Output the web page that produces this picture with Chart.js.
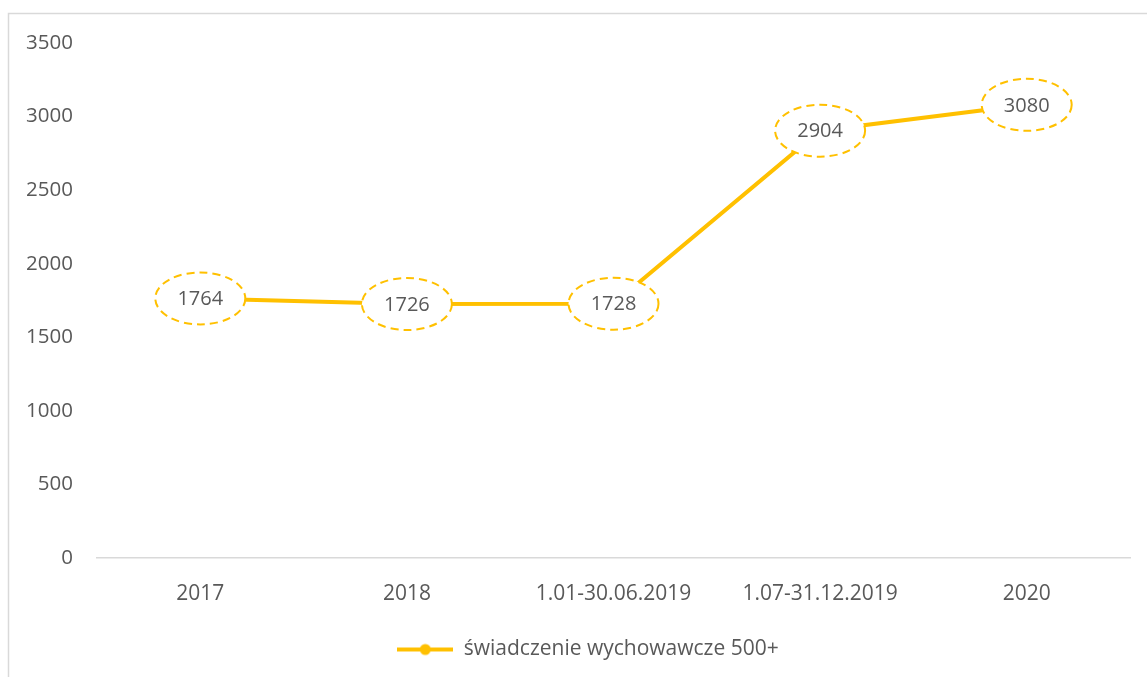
<!DOCTYPE html>
<html>
<head>
<meta charset="utf-8">
<title>świadczenie wychowawcze 500+</title>
<script src="https://cdn.jsdelivr.net/npm/chart.js@4/dist/chart.umd.min.js"></script>
<style>
  body { margin: 0; background: #fff; }
  #wrap { width: 1147px; height: 677px; }
</style>
</head>
<body>
<div id="wrap"><canvas id="chart" width="1147" height="677"></canvas></div>
<script>
// data
const categories = ['2017', '2018', '1.01-30.06.2019', '1.07-31.12.2019', '2020'];
const values = [1764, 1726, 1728, 2904, 3080];
const seriesName = 'świadczenie wychowawcze 500+';
const yTicks = [0, 500, 1000, 1500, 2000, 2500, 3000, 3500];

const yellow = '#FFC000';
const textGrey = '#595959';
const fontFamily = '"Open Sans", "Noto Sans", sans-serif';

// legend marker: line with a dot in the middle
function legendMarker() {
    const c = document.createElement('canvas');
    c.width = 56;
    c.height = 14;
    const g = c.getContext('2d');
    g.strokeStyle = yellow;
    g.lineWidth = 4;
    g.beginPath();
    g.moveTo(0, 7);
    g.lineTo(56, 7);
    g.stroke();
    g.fillStyle = yellow;
    g.beginPath();
    g.arc(28, 7, 5.5, 0, Math.PI * 2);
    g.fill();
    return c;
}

// outer frame of the chart (left and top edges are visible)
const framePlugin = {
    id: 'frame',
    afterLayout(chart) {
        // nudge the legend a bit to the right, like the original
        chart.legend.left += 18;
        chart.legend.right += 18;
    },
    beforeDraw(chart) {
        const ctx = chart.ctx;
        ctx.save();
        ctx.strokeStyle = '#d9d9d9';
        ctx.lineWidth = 1.5;
        ctx.strokeRect(8.5, 13.5, 1160, 700);
        ctx.restore();
    }
};

// dashed ellipse labels on each point
const ellipseLabels = {
    id: 'ellipseLabels',
    afterDatasetsDraw(chart) {
        const ctx = chart.ctx;
        const meta = chart.getDatasetMeta(0);
        ctx.save();
        meta.data.forEach((pt, i) => {
            ctx.beginPath();
            ctx.ellipse(pt.x, pt.y, 45, 26, 0, 0, Math.PI * 2);
            ctx.fillStyle = '#ffffff';
            ctx.fill();
            ctx.setLineDash([8, 5]);
            ctx.lineWidth = 2;
            ctx.strokeStyle = yellow;
            ctx.stroke();
            ctx.setLineDash([]);
            ctx.fillStyle = textGrey;
            ctx.font = '20px ' + fontFamily;
            ctx.textAlign = 'center';
            ctx.textBaseline = 'middle';
            ctx.fillText(String(values[i]), pt.x, pt.y + 1);
        });
        ctx.restore();
    }
};

const ctx = document.getElementById('chart').getContext('2d');
const chart = new Chart(ctx, {
    type: 'line',
    data: {
        labels: categories,
        datasets: [{
            label: seriesName,
            data: values,
            borderColor: yellow,
            backgroundColor: yellow,
            borderWidth: 4,
            pointRadius: 0,
            tension: 0
        }]
    },
    options: {
        responsive: false,
        animation: false,
        layout: { padding: { left: 10, right: 17, top: 43, bottom: 7 } },
        scales: {
            x: {
                offset: true,
                grid: { display: false, drawTicks: false },
                border: { display: true, color: '#d9d9d9', width: 1.5 },
                ticks: { color: textGrey, font: { family: fontFamily, size: 21 }, padding: 23, maxRotation: 0 },
                afterFit(scale) { scale.height = 71; }
            },
            y: {
                min: 0,
                max: 3500,
                grid: { display: false, drawTicks: false },
                border: { display: false },
                afterBuildTicks(scale) { scale.ticks = yTicks.map(v => ({ value: v })); },
                ticks: {
                    color: textGrey,
                    font: { family: fontFamily, size: 20.5 },
                    padding: 24,
                    callback: v => String(v)
                },
                afterFit(scale) { scale.width = 87; }
            }
        },
        plugins: {
            legend: {
                position: 'bottom',
                labels: {
                    usePointStyle: true,
                    pointStyle: legendMarker(),
                    pointStyleWidth: 56,
                    color: textGrey,
                    font: { family: fontFamily, size: 21 },
                    padding: 10
                }
            },
            tooltip: { enabled: false }
        }
    },
    plugins: [framePlugin, ellipseLabels]
});
</script>
</body>
</html>
